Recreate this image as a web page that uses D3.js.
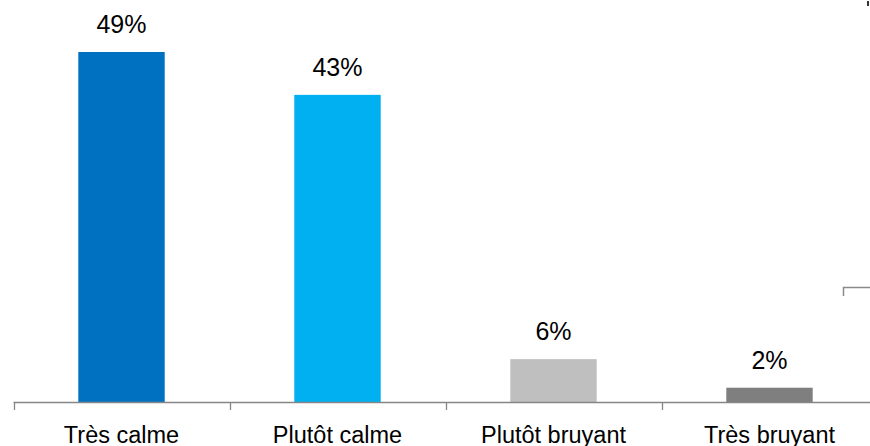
<!DOCTYPE html>
<html><head><meta charset="utf-8">
<script src="https://cdn.jsdelivr.net/npm/d3@7"></script>
<style>body{margin:0;background:#fff}svg{display:block}</style>
</head><body>
<script>
const categories = ["Très calme", "Plutôt calme", "Plutôt bruyant", "Très bruyant"];
const values = [49, 43, 6, 2];
const colors = ["#0070C0", "#00B0F0", "#BFBFBF", "#7F7F7F"];

const W = 870, H = 446;
const svg = d3.select("body").append("svg").attr("width", W).attr("height", H);
const font = "'Liberation Sans', Arial, sans-serif";

const x = d3.scaleBand().domain(categories).range([13.5, 877.5]).paddingInner(0.6).paddingOuter(0.3);
const y = d3.scaleLinear().domain([0, 49]).range([402, 52]);

// bars
svg.selectAll("rect.bar").data(values).enter().append("rect")
  .attr("x", (d, i) => x(categories[i]))
  .attr("width", x.bandwidth())
  .attr("y", d => y(d))
  .attr("height", d => y(0) - y(d))
  .attr("fill", (d, i) => colors[i]);

// value labels
svg.selectAll("text.val").data(values).enter().append("text")
  .attr("x", (d, i) => x(categories[i]) + x.bandwidth() / 2)
  .attr("y", d => y(d) - 19)
  .attr("text-anchor", "middle")
  .attr("font-family", font).attr("font-size", 25).attr("fill", "#000")
  .text(d => d + "%");

// axis
const xb = d3.scaleBand().domain(categories).range([13.5, 877.5]);
const axis = svg.append("g");
axis.append("line").attr("x1", 13.5).attr("x2", W).attr("y1", 402.5).attr("y2", 402.5)
  .attr("stroke", "#868686").attr("stroke-width", 1.3);
const edges = categories.map(c => xb(c)).concat([877.5]);
axis.selectAll("line.tick").data(edges).enter().append("line")
  .attr("x1", d => Math.round(d) + 0.5).attr("x2", d => Math.round(d) + 0.5)
  .attr("y1", 402).attr("y2", 410)
  .attr("stroke", "#868686").attr("stroke-width", 1.3);
axis.selectAll("text.cat").data(categories).enter().append("text")
  .attr("x", d => xb(d) + xb.bandwidth() / 2)
  .attr("y", 443)
  .attr("text-anchor", "middle")
  .attr("font-family", font).attr("font-size", 23.5).attr("fill", "#000")
  .text(d => d);

// cut-off artifacts from neighbouring chart
svg.append("path").attr("d", "M843.5,296 V287.5 H870").attr("fill", "none")
  .attr("stroke", "#8a8a8a").attr("stroke-width", 1.5);
svg.append("rect").attr("x", 867).attr("y", 1).attr("width", 2).attr("height", 5).attr("fill", "#333");
</script>
</body></html>
